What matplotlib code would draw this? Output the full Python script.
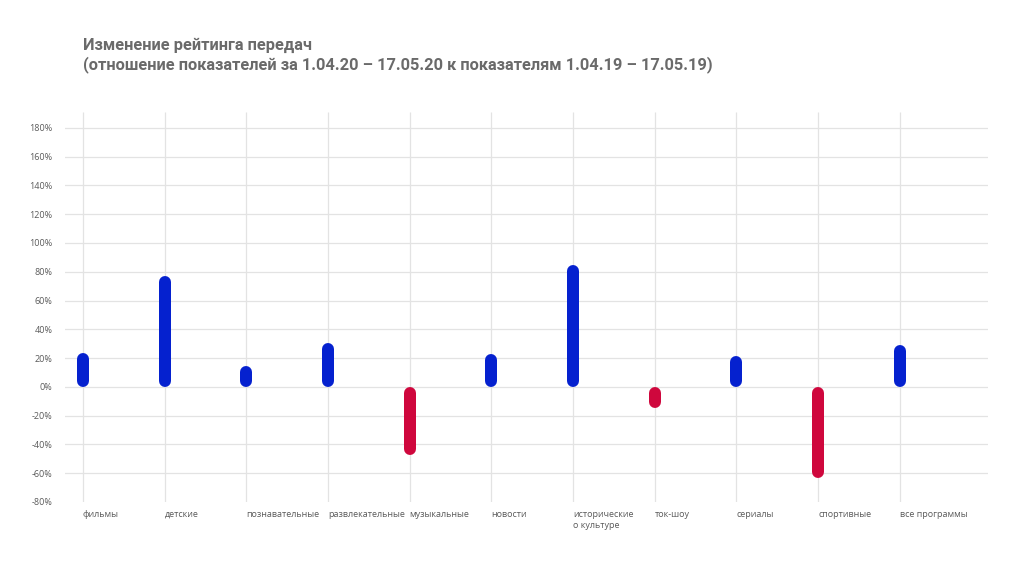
import numpy as np
import matplotlib.pyplot as plt
import matplotlib.transforms as mtransforms

# Данные
categories = ['фильмы', 'детские', 'познавательные', 'развлекательные', 'музыкальные',
              'новости', 'исторические\nо культуре', 'ток-шоу', 'сериалы', 'спортивные',
              'все программы']
values = [23.5, 77, 14.5, 30.5, -47.5, 23, 84.5, -15, 21.5, -63.5, 29]
y_ticks = [-80, -60, -40, -20, 0, 20, 40, 60, 80, 100, 120, 140, 160, 180]

blue = '#0521CF'
red = '#CF073D'
grid_color = '#e3e3e3'
text_color = '#5a5a5a'

plt.rcParams['font.family'] = ['Open Sans', 'DejaVu Sans']

fig = plt.figure(figsize=(10.24, 5.8), dpi=100)
ax = fig.add_axes([0.0635, 0.1345, 0.9013, 0.6724])

y_min, y_max = -80, 191
ax.set_xlim(-0.22, 11.08)
ax.set_ylim(y_min, y_max)

x = np.arange(len(categories))

# сетка
for yt in y_ticks[1:]:
    ax.axhline(yt, color=grid_color, lw=0.9, zorder=0)
ax.vlines(x, y_min, y_max, color=grid_color, lw=0.9, zorder=0)

# толщина линии и радиус закругления в единицах данных
lw_px = 12
px_per_unit = 0.6724 * 580 / (y_max - y_min)
r = lw_px / 2 / px_per_unit

for xi, v in zip(x, values):
    c = blue if v >= 0 else red
    s = 1 if v >= 0 else -1
    ax.plot([xi, xi], [s * r, v - s * r], color=c, lw=lw_px * 72 / 100,
            solid_capstyle='round', zorder=3)

ax.set_yticks(y_ticks)
ax.set_yticklabels([f'{t}%' for t in y_ticks])
ax.set_xticks(x)
ax.set_xticklabels([])
ax.tick_params(axis='y', length=0, pad=9, labelsize=6.5, labelcolor=text_color)
ax.tick_params(axis='x', length=0)
for sp in ax.spines.values():
    sp.set_visible(False)

# подписи категорий (каждая строка отдельно, по базовой линии)
for xi, lab in zip(x, categories):
    for j, line in enumerate(lab.split('\n')):
        tr = mtransforms.offset_copy(ax.get_xaxis_transform(), fig=fig,
                                     y=-15 - j * 11.5, units='dots')
        ax.text(xi, 0, line, transform=tr, ha='left', va='baseline',
                fontsize=6.5, color=text_color)

fig.text(83 / 1024, 1 - 38 / 580,
         'Изменение рейтинга передач\n'
         '(отношение показателей за 1.04.20 – 17.05.20 к показателям 1.04.19 – 17.05.19)',
         ha='left', va='top', fontsize=11.8, fontweight='bold', color='#6a6a6a',
         family=['Roboto', 'DejaVu Sans'], linespacing=1.25)

fig.savefig('out.png', dpi=100, facecolor='white')
